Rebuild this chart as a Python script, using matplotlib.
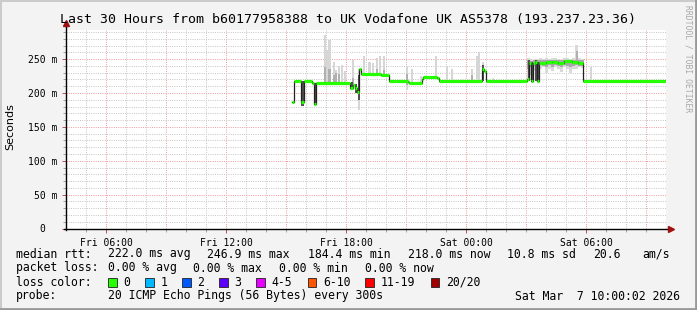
import matplotlib
matplotlib.use("Agg")
import matplotlib.pyplot as plt
import numpy as np
from matplotlib.lines import Line2D
from matplotlib.patches import Rectangle

W, H = 697, 310
MONO = "DejaVu Sans Mono"

# time axis in hours since Fri 00:00 (30 hours ending Sat 10:00)
t_start, t_end = 4.0, 34.0
y_max = 293

xtick_pos = [6, 12, 18, 24, 30]
xtick_labels = ["Fri 06:00", "Fri 12:00", "Fri 18:00", "Sat 00:00", "Sat 06:00"]
ytick_pos = [0, 50, 100, 150, 200, 250]
ytick_labels = ["0  ", "50 m", "100 m", "150 m", "200 m", "250 m"]

# median rtt as steps: start hour, value in ms (last step runs to t_end)
median_t = [15.28, 15.42, 15.77, 15.88, 16.30, 16.40, 16.50, 18.20, 18.33, 18.45,
            18.55, 18.65, 18.75, 19.75, 20.17, 21.10, 21.17, 21.80, 21.87, 22.53,
            22.63, 24.78, 24.90, 24.98, 27.03, 27.13, 27.25, 27.33, 27.45, 27.55,
            27.65, 28.00, 28.30, 28.60, 28.90, 29.30, 29.60, 29.87]
median_v = [186, 218, 186, 218, 215, 184.4, 215, 207, 212, 207,
            202, 235, 228, 227, 218, 216, 215, 220, 224, 222,
            218, 235, 233, 218, 220, 244, 218, 244, 246, 218,
            245, 245.5, 246.5, 244.5, 246.9, 245.5, 244.5, 218]

# light smoke spikes: hour, low ms, high ms
spike_t = [16.93, 17.03, 17.17, 17.38, 17.50, 17.63, 17.78, 17.95, 18.35, 18.63,
           18.90, 19.17, 19.33, 19.53, 19.68, 19.90, 21.05, 21.30, 21.75, 22.49,
           23.03, 23.28, 24.28, 24.53, 24.63, 24.85, 25.35, 29.53, 30.23]
spike_lo = [215, 215, 215, 215, 215, 215, 215, 215, 205, 175,
            228, 228, 228, 228, 227, 227, 205, 215, 213, 224,
            218, 218, 218, 218, 218, 218, 218, 244, 218]
spike_hi = [286, 264, 278, 246, 234, 240, 242, 232, 248, 235,
            254, 246, 244, 251, 255, 254, 240, 235, 225, 254,
            240, 235, 235, 254, 260, 246, 222, 271, 239]

# mid grey smoke under the spikes
mid_t = [16.93, 17.17, 17.38, 17.50, 17.63, 18.35, 19.53, 19.90, 21.05, 24.28, 29.53]
mid_lo = [215, 215, 215, 215, 215, 210, 228, 227, 212, 218, 244]
mid_hi = [238, 236, 226, 230, 228, 222, 236, 234, 228, 226, 262]

# dark smoke where the median jumps
dark_t = [15.82, 16.45, 18.30, 18.50, 18.63, 24.85, 27.15, 27.30, 27.50, 27.62]
dark_lo = [181, 184, 205, 200, 190, 218, 218, 218, 218, 218]
dark_hi = [218, 215, 216, 214, 226, 242, 248, 246, 248, 246]

# smoke band while rtt sat around 245 ms
band_t = [27.10, 27.25, 27.40, 27.55, 27.70, 27.85, 28.00, 28.15, 28.30, 28.45,
          28.60, 28.75, 28.90, 29.05, 29.20, 29.35, 29.50, 29.65, 29.80]
band_lo = [222, 226, 232, 225, 236, 238, 230, 236, 233, 239,
           236, 231, 238, 236, 229, 236, 235, 238, 237]
band_hi = [251, 250, 249, 250, 252, 250, 251, 250, 252, 251,
           250, 249, 251, 252, 250, 251, 271, 252, 250]
band_dark_lo = [236, 238, 240, 237, 241, 240, 238, 241, 239, 242,
                240, 238, 241, 240, 238, 240, 241, 240, 240]
band_dark_hi = [248, 247, 248, 248, 249, 248, 249, 248, 249, 249,
                248, 248, 249, 249, 248, 249, 249, 249, 248]

rtt_stats = [222.0, 246.9, 184.4, 218.0, 10.8]
am_s = 20.6
loss_stats = [0.00, 0.00, 0.00, 0.00]

loss_labels = ["0", "1", "2", "3", "4-5", "6-10", "11-19", "20/20"]
loss_colors = ["#26ff00", "#00b8ff", "#0059ff", "#5e00ff", "#e600ff", "#ff5500", "#ff0000", "#a10000"]

probe_text = "20 ICMP Echo Pings (56 Bytes) every 300s"
stamp_text = "Sat Mar  7 10:00:02 2026"
title = "Last 30 Hours from b60177958388 to UK Vodafone UK AS5378 (193.237.23.36)"

plt.rcParams['lines.scale_dashes'] = False

fig = plt.figure(figsize=(W / 100, H / 100), dpi=100, facecolor="#f3f3f3")


def fx(x):
    return x / W


def fy(y):
    return 1 - y / H


ax_left, ax_right, ax_top, ax_bot = 66, 666, 30, 228.5
ax = fig.add_axes([fx(ax_left), fy(ax_bot), (ax_right - ax_left) / W, (ax_bot - ax_top) / H])
ax.set_facecolor("white")
ax.set_xlim(t_start, t_end)
ax.set_ylim(0, y_max)

#-----------grid-----------
dot = (0, (0.72, 0.9))
for h in np.arange(t_start + 1, t_end + 0.5, 1):
    major = (h % 3) == 0
    ax.axvline(h, color="#f0a0a0" if major else "#c8c8c8", lw=0.72, ls=dot, zorder=1)
for v in np.arange(10, y_max, 10):
    major = (v % 50) == 0
    ax.axhline(v, color="#f0a0a0" if major else "#c8c8c8", lw=0.72, ls=dot, zorder=1)

#-----------smoke-----------
step_w = 0.11
ax.bar(spike_t, np.array(spike_hi) - np.array(spike_lo), bottom=spike_lo, width=step_w,
       color="#d6d6d6", lw=0, zorder=2)
ax.bar(band_t, np.array(band_hi) - np.array(band_lo), bottom=band_lo, width=0.15,
       color="#d9d9d9", lw=0, zorder=2)
ax.bar(mid_t, np.array(mid_hi) - np.array(mid_lo), bottom=mid_lo, width=step_w,
       color="#b0b0b0", lw=0, zorder=3)
ax.bar(band_t, np.array(band_dark_hi) - np.array(band_dark_lo), bottom=band_dark_lo, width=0.15,
       color="#a8a8a8", lw=0, zorder=3)
ax.bar(dark_t, np.array(dark_hi) - np.array(dark_lo), bottom=dark_lo, width=step_w,
       color="#505050", lw=0, zorder=3)

#-----------median-----------
t_ends = median_t[1:] + [t_end]
ax.step(median_t + [t_end], median_v + [median_v[-1]], where="post", color="#202020", lw=0.9, zorder=4)
ax.hlines(median_v, median_t, t_ends, color=loss_colors[0], lw=2.3, zorder=5)

#-----------axes-----------
for s in ax.spines.values():
    s.set_visible(False)
ax.add_line(Line2D([-0.004, 1.01], [0, 0], transform=ax.transAxes, color="black", lw=1, clip_on=False, zorder=6))
ax.add_line(Line2D([0, 0], [-0.01, 1.03], transform=ax.transAxes, color="black", lw=1, clip_on=False, zorder=6))
ax.plot([1.009], [0], marker=">", ms=4.5, color="#a01010", transform=ax.transAxes, clip_on=False, zorder=7)
ax.plot([0], [1.035], marker="^", ms=4.5, color="#a01010", transform=ax.transAxes, clip_on=False, zorder=7)

ax.set_xticks(xtick_pos)
ax.set_xticklabels(xtick_labels, family=MONO, fontsize=7)
ax.set_xticks(np.arange(t_start + 1, t_end, 1), minor=True)
ax.set_yticks(ytick_pos)
ax.set_yticklabels(ytick_labels, family=MONO, fontsize=7)
ax.set_yticks(np.arange(10, y_max, 10), minor=True)
ax.tick_params(axis="both", which="major", length=3, width=0.7, color="#c05050", pad=3)
ax.tick_params(axis="both", which="minor", length=2, width=0.7, color="#a0a0a0")
ax.tick_params(axis="x", which="major", pad=4)

#-----------title and legend-----------
fig.text(fx(10), fy(127), "Seconds", fontsize=8, family="DejaVu Sans", rotation=90, ha="center", va="center")
fig.text(fx(348.5), fy(20), title, family=MONO, fontsize=9.5, ha="center", va="center")
fig.text(fx(688), fy(59), "RRDTOOL / TOBI OETIKER", family=MONO, fontsize=5.8, color="#a8a8a8",
         rotation=270, ha="center", va="center")

lg = dict(family=MONO, fontsize=8.3, va="center")
row1 = ["median rtt:",
        "%.1f ms avg" % rtt_stats[0], "%.1f ms max" % rtt_stats[1],
        "%.1f ms min" % rtt_stats[2], "%.1f ms now" % rtt_stats[3],
        "%.1f ms sd" % rtt_stats[4], "%.1f" % am_s, "am/s"]
row1_x = [16, 107.6, 207, 307.6, 407.6, 507, 593, 642]
for x, s in zip(row1_x, row1):
    fig.text(fx(x), fy(254), s, **lg)

row2 = ["packet loss:"] + ["%.2f %% %s" % (v, k) for v, k in zip(loss_stats, ["avg", "max", "min", "now"])]
row2_x = [16, 107.6, 193, 279, 365]
for x, s in zip(row2_x, row2):
    fig.text(fx(x), fy(268), s, **lg)

fig.text(fx(16), fy(282), "loss color:", **lg)
box_x = [108, 145, 182, 219, 256, 307.5, 365, 430.7]
for x, c, s in zip(box_x, loss_colors, loss_labels):
    fig.patches.append(Rectangle((fx(x), fy(286.5)), 8.5 / W, 9 / H, transform=fig.transFigure,
                                 facecolor=c, edgecolor="#202020", lw=0.6))
    fig.text(fx(x + 15.5), fy(282), s, **lg)

fig.text(fx(16), fy(296), "probe:", **lg)
fig.text(fx(107.6), fy(296), probe_text, **lg)
fig.text(fx(680), fy(296), stamp_text, ha="right", **lg)

# frame around the picture
fig.add_artist(Line2D([0, 1], [fy(0.5), fy(0.5)], transform=fig.transFigure, color="#cbcbcb", lw=1.5))
fig.add_artist(Line2D([fx(0.5), fx(0.5)], [0, 1], transform=fig.transFigure, color="#cbcbcb", lw=1.5))
fig.add_artist(Line2D([0, 1], [fy(H - 1), fy(H - 1)], transform=fig.transFigure, color="#999999", lw=2))
fig.add_artist(Line2D([fx(W - 1.5), fx(W - 1.5)], [0, 1], transform=fig.transFigure, color="#999999", lw=2))

fig.savefig("out.png", dpi=100, facecolor=fig.get_facecolor())
